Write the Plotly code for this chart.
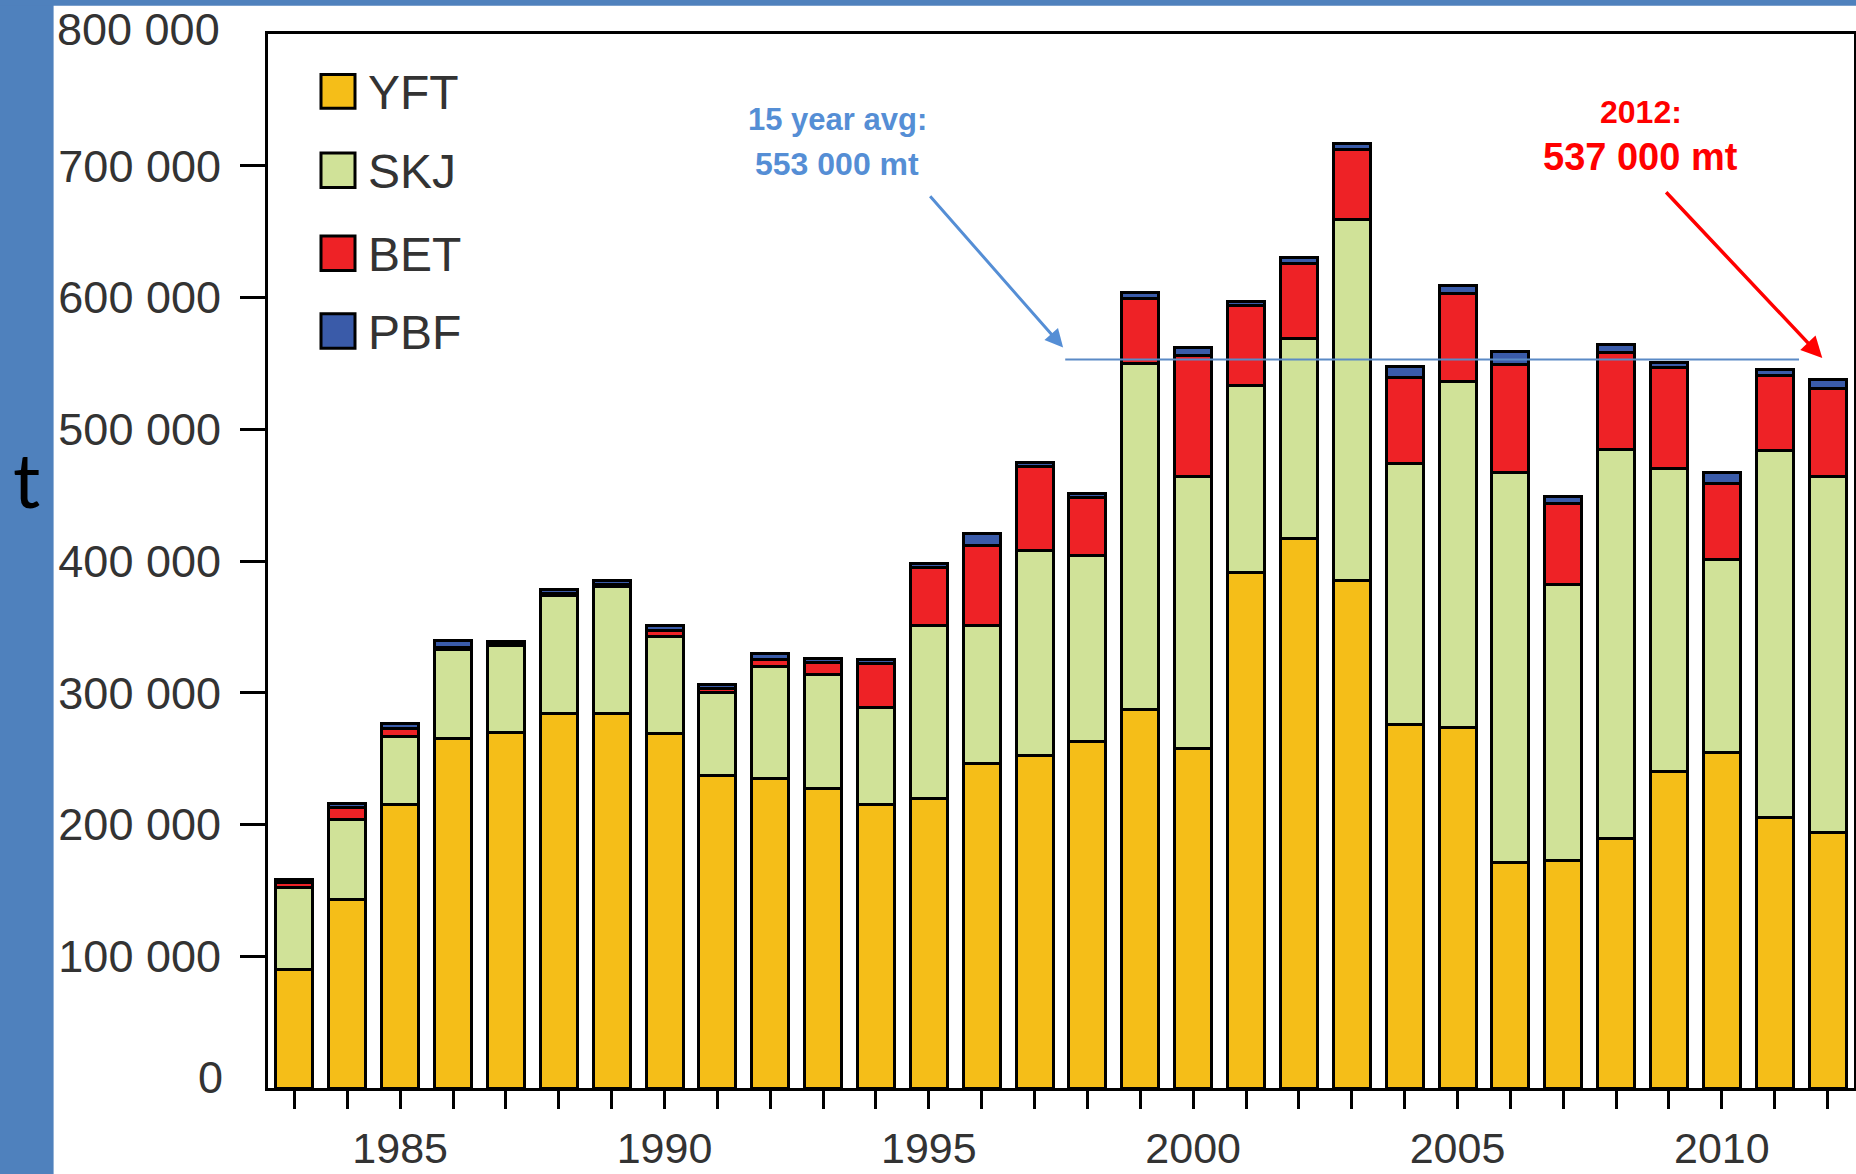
import plotly.graph_objects as go

# ---------------- data (tonnes) ----------------
years = list(range(1983, 2013))
yft = [90, 143, 215, 265, 270, 284, 284, 269, 237, 235,
       227, 215, 220, 246, 252, 263, 287, 258, 391, 417,
       385, 276, 274, 171, 173, 189, 240, 255, 205, 194]
skj = [62, 61, 52, 68, 66, 90, 97, 74, 63, 85,
       87, 74, 131, 105, 156, 141, 263, 206, 142, 152,
       274, 198, 262, 296, 209, 296, 230, 146, 279, 270]
bet = [4, 9, 6, 1, 1, 1, 1, 4, 3, 5,
       9, 33, 44, 61, 64, 44, 49, 92, 61, 57,
       53, 65, 67, 82, 62, 73, 77, 58, 57, 67]
pbf = [2, 3, 4, 6, 2, 3, 3, 4, 3, 5,
       3, 3, 3, 9, 3, 3, 5, 6, 3, 4,
       5, 9, 6, 10, 5, 6, 4, 8, 4, 7]
species = ["YFT", "SKJ", "BET", "PBF"]
colors = ["#F5BE18", "#D0E298", "#EE2226", "#3A5BA9"]
series = [yft, skj, bet, pbf]

x_tick_years = [1985, 1990, 1995, 2000, 2005, 2010]
y_tick_vals = [100000, 200000, 300000, 400000, 500000, 600000, 700000]
avg_value = 553000
avg_span = [1997.58, 2011.46]
total_2012 = 537000

def fmt(v):
    return f"{v:,}".replace(",", " ")

# ---------------- geometry helpers (pixels -> paper) ----------------
W, H = 1856, 1174
ML, MR, MT, MB = 268, 2, 34, 86
PW, PH = W - ML - MR, H - MT - MB

def px(x):
    return (x - ML) / PW

def py(y):
    return (H - MB - y) / PH

fig = go.Figure()
for name, vals, col in zip(species, series, colors):
    fig.add_trace(go.Bar(
        x=years, y=[v * 1000 for v in vals], name=name,
        marker=dict(color=col, line=dict(color="black", width=3)),
        showlegend=False,
    ))

tick_font = dict(family="Liberation Sans, Arial, sans-serif", size=45, color="#333333")

shapes = [
    # blue frame of the slide
    dict(type="rect", xref="paper", yref="paper", x0=px(-2), x1=px(53.6), y0=py(H + 2), y1=py(-2),
         fillcolor="#4F81BD", line=dict(width=0), layer="below"),
    dict(type="rect", xref="paper", yref="paper", x0=px(-2), x1=px(W + 2), y0=py(5.7), y1=py(-2),
         fillcolor="#4F81BD", line=dict(width=0), layer="below"),
    # 15 year average line
    dict(type="line", xref="x", yref="y", x0=avg_span[0], x1=avg_span[1], y0=avg_value, y1=avg_value,
         line=dict(color="#5A8AC6", width=2)),
]

annotations = []
# custom legend
leg_rows = [(74.6, 108.3), (153.1, 187.5), (236.1, 270.6), (313.8, 348.3)]
for name, col, (t, b) in zip(species, colors, leg_rows):
    shapes.append(dict(type="rect", xref="paper", yref="paper", x0=px(321), x1=px(355),
                       y0=py(b), y1=py(t), fillcolor=col, line=dict(color="black", width=3)))
    annotations.append(dict(xref="paper", yref="paper", x=px(366), y=py((t + b) / 2 + 1),
                            text=name, showarrow=False, xanchor="left", yanchor="middle",
                            font=dict(family="Liberation Sans, Arial, sans-serif", size=48, color="#333333")))

# y labels for 0 and 800 000 (no tick marks in the original)
for val, xpix, ypix in [(0, 225, 1077), (800000, 222, 30)]:
    annotations.append(dict(xref="paper", yref="paper", x=px(xpix), y=py(ypix), text=fmt(val),
                            showarrow=False, xanchor="right", yanchor="middle", font=tick_font))

# axis title "t"
annotations.append(dict(xref="paper", yref="paper", x=px(27), y=py(478), text="t", showarrow=False,
                        xanchor="center", yanchor="middle",
                        font=dict(family="Lato, Liberation Sans, sans-serif", size=76, color="black")))

# blue annotation
blue = "#558ED5"
annotations.append(dict(xref="paper", yref="paper", x=px(837), y=py(120), text="<b>15 year avg:</b>",
                        showarrow=False, xanchor="center", yanchor="middle",
                        font=dict(family="Liberation Sans, Arial, sans-serif", size=31, color=blue)))
annotations.append(dict(xref="paper", yref="paper", x=px(837), y=py(164), text=f"<b>{fmt(avg_value)} mt</b>",
                        showarrow=False, xanchor="center", yanchor="middle",
                        font=dict(family="Liberation Sans, Arial, sans-serif", size=32, color=blue)))
annotations.append(dict(xref="x", yref="y", axref="x", ayref="y", x=1997.54, y=562000,
                        ax=1995.0, ay=678000, text="", showarrow=True, arrowhead=2,
                        arrowsize=1.2, arrowwidth=3, arrowcolor=blue))

# red annotation
red = "#FF0000"
annotations.append(dict(xref="paper", yref="paper", x=px(1641), y=py(112), text="<b>2012:</b>",
                        showarrow=False, xanchor="center", yanchor="middle",
                        font=dict(family="Liberation Sans, Arial, sans-serif", size=32, color=red)))
annotations.append(dict(xref="paper", yref="paper", x=px(1640), y=py(157), text=f"<b>{fmt(total_2012)} mt</b>",
                        showarrow=False, xanchor="center", yanchor="middle",
                        font=dict(family="Liberation Sans, Arial, sans-serif", size=38, color=red)))
annotations.append(dict(xref="x", yref="y", axref="x", ayref="y", x=2011.9, y=554000,
                        ax=2008.92, ay=681000, text="", showarrow=True, arrowhead=2,
                        arrowsize=1.2, arrowwidth=3.5, arrowcolor=red))

fig.update_layout(
    width=W, height=H, autosize=False,
    margin=dict(l=ML, r=MR, t=MT, b=MB, pad=0, autoexpand=False),
    barmode="stack", bargap=0.3,
    paper_bgcolor="white", plot_bgcolor="white",
    shapes=shapes, annotations=annotations,
    showlegend=False,
)
fig.update_xaxes(
    range=[1982.5, 2012.5], tickvals=x_tick_years, ticktext=[str(y) for y in x_tick_years],
    ticks="outside", ticklen=18, tickwidth=3, tickcolor="black",
    minor=dict(ticks="outside", tick0=1983, dtick=1, ticklen=18, tickwidth=3, tickcolor="black"),
    tickfont=dict(family="Liberation Sans, Arial, sans-serif", size=43, color="#333333"),
    ticklabelstandoff=2, automargin=False,
    showline=True, linewidth=3, linecolor="black", mirror=True,
    showgrid=False, zeroline=False,
)
fig.update_yaxes(
    range=[0, 800000], tickvals=y_tick_vals, ticktext=[fmt(v) for v in y_tick_vals],
    ticks="outside", ticklen=25, tickwidth=3, tickcolor="black",
    tickfont=tick_font, ticklabelstandoff=10, automargin=False,
    showline=True, linewidth=3, linecolor="black", mirror=True,
    showgrid=False, zeroline=False,
)

fig.write_html(
    "out.html",
    config={"displayModeBar": False},
    post_script="document.body.style.margin='0';document.body.style.overflow='hidden';",
)
